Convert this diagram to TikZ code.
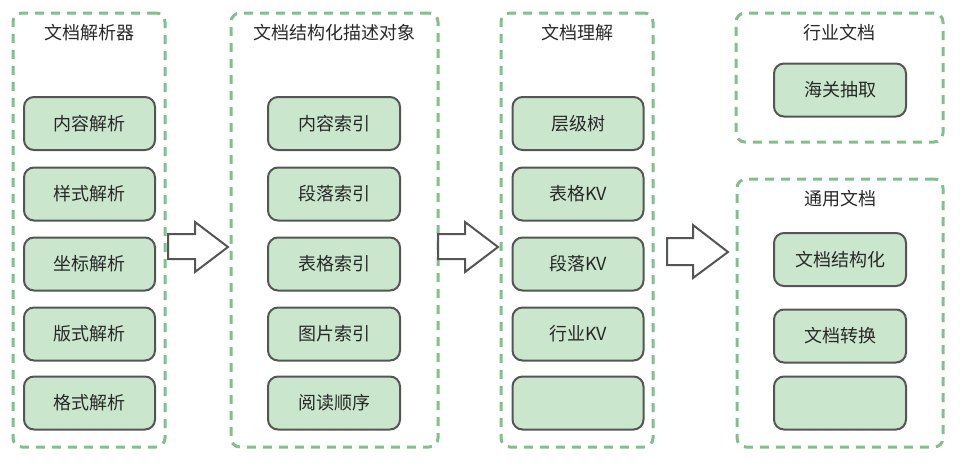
\documentclass[tikz,border=0pt]{standalone}
\usepackage{fontspec}
\setmainfont{Noto Sans CJK SC}
\definecolor{dashgreen}{RGB}{128,192,138}
\definecolor{boxfill}{RGB}{202,231,205}
\definecolor{boxline}{RGB}{85,85,85}
\definecolor{txt}{RGB}{40,40,40}
\begin{document}
\begin{tikzpicture}[x=1pt,y=-1pt,
  group/.style={draw=dashgreen,line width=3pt,dash pattern=on 9pt off 7pt,rounded corners=9pt,inner sep=0pt,minimum width=#1},
  item/.style={draw=boxline,fill=boxfill,line width=2pt,rounded corners=10pt,minimum width=131pt,minimum height=53pt,inner sep=0pt,text=txt,font=\fontsize{18}{21}\selectfont},
  title/.style={text=txt,font=\fontsize{18}{21}\selectfont,inner sep=0pt},
  blockarrow/.style={draw=boxline,line width=2pt,fill=white,line join=miter}]
\useasboundingbox (0,0) rectangle (960,464);
% containers
\node[group=152pt,minimum height=434pt] (g1) at (89,230) {};
\node[group=207pt,minimum height=434pt] (g2) at (334.5,230) {};
\node[group=152pt,minimum height=434pt] (g3) at (577,230) {};
\node[group=207pt,minimum height=129pt] (g4) at (839.5,77.5) {};
\node[group=206pt,minimum height=268pt] (g5) at (840,313) {};
% titles
\node[title] (t1) at (89,33) {文档解析器};
\node[title] (t2) at (334.5,33) {文档结构化描述对象};
\node[title] (t3) at (577,33) {文档理解};
\node[title] (t4) at (839.5,33) {行业文档};
\node[title] (t5) at (840,199) {通用文档};
% column 1
\node[item] (a1) at (89.5,123.5) {内容解析};
\node[item] (a2) at (89.5,194) {样式解析};
\node[item] (a3) at (89.5,264) {坐标解析};
\node[item] (a4) at (89.5,334) {版式解析};
\node[item] (a5) at (89.5,403) {格式解析};
% column 2
\node[item,minimum width=132pt] (b1) at (334,123.5) {内容索引};
\node[item,minimum width=132pt] (b2) at (334,194) {段落索引};
\node[item,minimum width=132pt] (b3) at (334,264) {表格索引};
\node[item,minimum width=132pt] (b4) at (334,334) {图片索引};
\node[item,minimum width=132pt] (b5) at (334,403) {阅读顺序};
% column 3
\node[item] (c1) at (578,123.5) {层级树};
\node[item] (c2) at (578,194) {表格KV};
\node[item] (c3) at (578,264) {段落KV};
\node[item] (c4) at (578,334) {行业KV};
\node[item] (c5) at (578,403) {};
% column 4
\node[item,minimum width=132pt] (d1) at (840,90) {海关抽取};
\node[item,minimum width=132pt] (e1) at (840,259.5) {文档结构化};
\node[item,minimum width=132pt] (e2) at (840,336) {文档转换};
\node[item,minimum width=132pt] (e3) at (840,403) {};
% block arrows
\draw[blockarrow] (168,234) -- (195,234) -- (195,222) -- (228,247) -- (195,272) -- (195,259) -- (168,259) -- cycle;
\draw[blockarrow] (438,234) -- (465,234) -- (465,222) -- (498,247) -- (465,272) -- (465,259) -- (438,259) -- cycle;
\draw[blockarrow] (667,238) -- (693,238) -- (693,225) -- (728,252) -- (693,278) -- (693,265) -- (667,265) -- cycle;
\end{tikzpicture}
\end{document}
